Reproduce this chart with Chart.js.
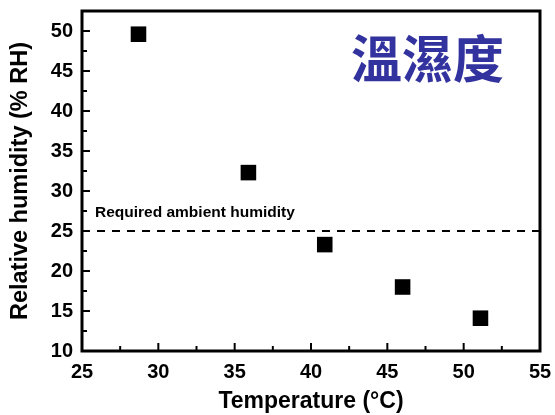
<!DOCTYPE html>
<html><head><meta charset="utf-8">
<script src="https://cdn.jsdelivr.net/npm/chart.js@4.4.1/dist/chart.umd.min.js"></script>
<style>html,body{margin:0;padding:0;background:#fff}#wrap{width:555px;height:415px}</style>
</head><body><div id="wrap"><canvas id="c" width="555" height="415"></canvas></div>
<script>
const temperature = [28.7, 35.9, 40.9, 46.0, 51.1];
const humidity = [49.6, 32.3, 23.3, 18.0, 14.1];
const requiredHumidity = 25;
const xTicks = [25, 30, 35, 40, 45, 50, 55];
const yTicks = [10, 15, 20, 25, 30, 35, 40, 45, 50];
const titleText = '溫濕度';
const refLabel = 'Required ambient humidity';

const FONT = '"Liberation Sans", Arial, sans-serif';

const framePlugin = {
  id: 'frame',
  afterDraw(chart) {
    const {ctx, chartArea: a, scales: {x, y}} = chart;
    ctx.save();
    ctx.strokeStyle = '#000';
    ctx.lineWidth = 3;
    ctx.strokeRect(a.left, a.top, a.right - a.left, a.bottom - a.top);
    ctx.lineWidth = 2;
    for (let v = 25; v <= 55.001; v += 2.5) {
      const px = x.getPixelForValue(v);
      const major = Math.abs(v % 5) < 0.01;
      const len = major ? 8 : 5;
      ctx.beginPath(); ctx.moveTo(px, a.bottom); ctx.lineTo(px, a.bottom - len); ctx.stroke();
    }
    for (let v = 10; v <= 52.5; v += 2.5) {
      const py = y.getPixelForValue(v);
      const major = Math.abs(v % 5) < 0.01;
      const len = major ? 8 : 5;
      ctx.beginPath(); ctx.moveTo(a.left, py); ctx.lineTo(a.left + len, py); ctx.stroke();
    }
    ctx.fillStyle = '#000';
    ctx.font = 'bold 15.5px ' + FONT;
    ctx.textBaseline = 'alphabetic';
    ctx.textAlign = 'left';
    ctx.fillText(refLabel, x.getPixelForValue(25.85), y.getPixelForValue(requiredHumidity) - 14);
    ctx.fillStyle = '#33339f';
    ctx.font = 'bold 51px "Noto Sans CJK TC", "Noto Sans CJK SC", sans-serif';
    ctx.textAlign = 'left';
    ctx.textBaseline = 'middle';
    ctx.fillText(titleText, 351, 59);
    ctx.restore();
  }
};

new Chart(document.getElementById('c'), {
  type: 'scatter',
  data: {
    datasets: [
      {
        data: temperature.map((t, i) => ({x: t, y: humidity[i]})),
        pointStyle: 'rect', pointRadius: 11, pointHoverRadius: 11,
        backgroundColor: '#000', borderColor: '#000', borderWidth: 0
      },
      {
        type: 'line',
        data: [{x: 25, y: requiredHumidity}, {x: 55, y: requiredHumidity}],
        borderColor: '#000', borderWidth: 2, borderDash: [8, 7],
        pointRadius: 0, fill: false
      }
    ]
  },
  options: {
    responsive: false, animation: false,
    layout: {padding: {top: 11, right: 15, left: 0, bottom: 0}},
    plugins: {legend: {display: false}, tooltip: {enabled: false}},
    scales: {
      x: {
        type: 'linear', min: 25, max: 55,
        afterBuildTicks(s) { s.ticks = xTicks.map(v => ({value: v})); },
        afterFit(s) { s.height = 64; s.paddingLeft = 0; s.paddingRight = 0; },
        grid: {display: false, drawTicks: false},
        border: {display: false},
        ticks: {color: '#000', font: {family: FONT, size: 20, weight: 'bold'}, padding: 9, maxRotation: 0},
        title: {display: true, text: 'Temperature (°C)', color: '#000', font: {family: FONT, size: 23, weight: 'bold'}, padding: {top: 7, bottom: 0}}
      },
      y: {
        type: 'linear', min: 10, max: 52.5,
        afterBuildTicks(s) { s.ticks = yTicks.map(v => ({value: v})); },
        afterFit(s) { s.width = 82; s.paddingTop = 0; s.paddingBottom = 0; },
        grid: {display: false, drawTicks: false},
        border: {display: false},
        ticks: {color: '#000', font: {family: FONT, size: 20, weight: 'bold'}, padding: 9},
        title: {display: true, text: 'Relative humidity (% RH)', color: '#000', font: {family: FONT, size: 23.5, weight: 'bold'}, padding: {top: 6, bottom: 0}}
      }
    }
  },
  plugins: [framePlugin]
});
</script></body></html>
